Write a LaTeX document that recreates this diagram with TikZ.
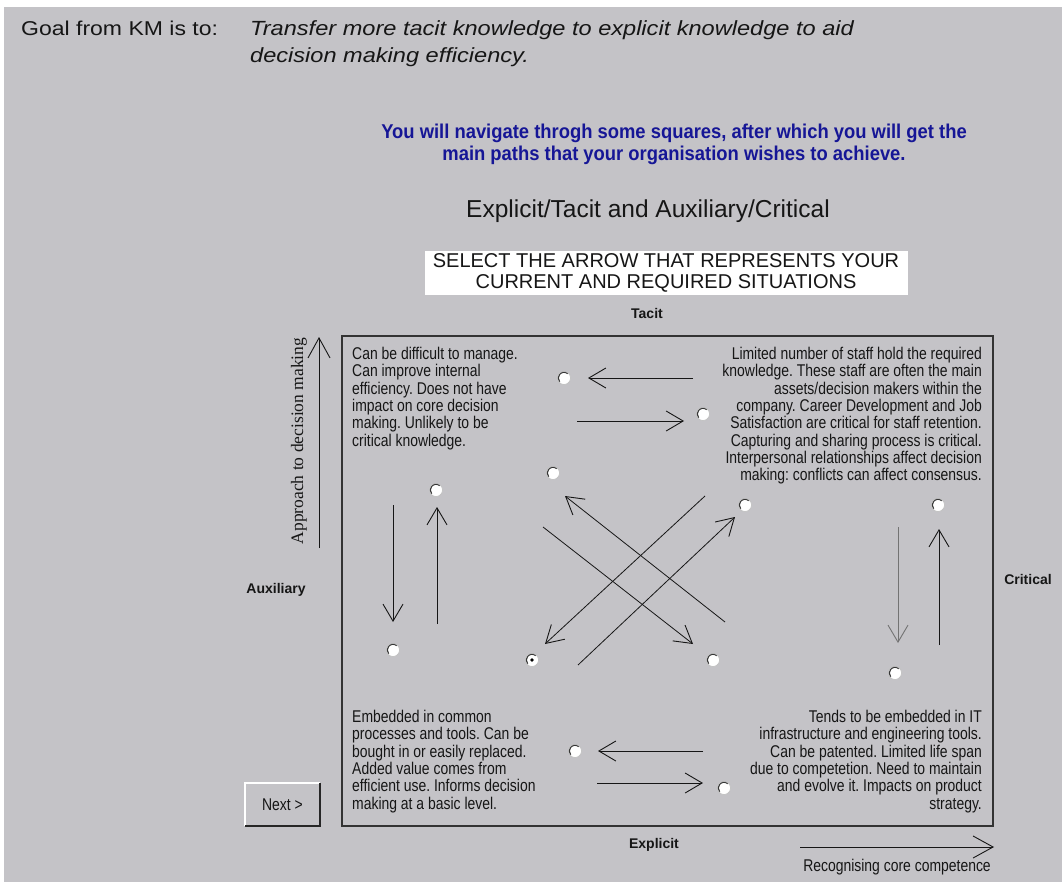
\documentclass[tikz,border=0pt]{standalone}
\usepackage{fontspec}
\setmainfont{Liberation Sans}
\newfontfamily\panelfont{Liberation Sans}[FakeStretch=0.82]
\newfontfamily\headfont{Liberation Sans}[FakeStretch=1.15]
\newfontfamily\promptfont{Liberation Sans}[FakeStretch=0.92]
\newfontfamily\axisfont{Liberation Serif}
\usetikzlibrary{arrows.meta,calc}
\definecolor{panelgray}{RGB}{196,195,199}
\definecolor{prompt}{RGB}{22,22,150}
\definecolor{ink}{RGB}{22,22,22}
\frenchspacing

\begin{document}
\begin{tikzpicture}[x=1pt,y=-1pt,
  quad/.style={inner sep=0pt, font=\panelfont\fontsize{17}{17.3}\selectfont, text=ink},
  sidelabel/.style={inner sep=0pt, font=\bfseries\fontsize{14}{16}\selectfont, text=ink},
  radio/.style={circle, inner sep=0pt, minimum size=13pt, fill=white, draw=black!25, line width=0.6pt,
    path picture={\draw[black!80,line width=1.3pt]
      ($(path picture bounding box.center)+(50:5.8pt)$) arc[start angle=50,end angle=220,radius=5.8pt];}},
  barb/.style={-{Straight Barb[length=17pt,width=20pt,line width=0.9pt]}, line width=1pt, ink},
  axisarrow/.style={-{Straight Barb[length=20pt,width=22pt,line width=0.9pt]}, line width=1pt, ink}]

% page and panel background
\useasboundingbox (0,0) rectangle (1062,882);
\fill[white] (0,0) rectangle (1062,882);
\fill[panelgray] (4,7) rectangle (1062,882);

% heading (multi-line nodes sit on the baseline of their last line)
\node[anchor=base west, inner sep=0pt, font=\headfont\fontsize{20}{24}\selectfont, text=ink] (goal) at (21,36) {Goal from KM is to:};
\node[anchor=base west, inner sep=0pt, align=left, font=\headfont\itshape\fontsize{20.5}{27}\selectfont, text=ink] (aim) at (250,63)
  {Transfer more tacit knowledge to explicit knowledge to aid\\decision making efficiency.};

% instructions
\node[anchor=base, inner sep=0pt, align=center, font=\promptfont\bfseries\fontsize{20}{22}\selectfont, text=prompt] (intro) at (674,161)
  {You will navigate throgh some squares, after which you will get the\\main paths that your organisation wishes to achieve.};
\node[anchor=base, inner sep=0pt, font=\fontsize{24.5}{28}\selectfont, text=ink] (title) at (648,218) {Explicit/Tacit and Auxiliary/Critical};
\fill[white] (425,251) rectangle (908,295);
\node[anchor=base, inner sep=0pt, align=center, font=\fontsize{20}{21}\selectfont, text=ink] (select) at (666,289)
  {SELECT THE ARROW THAT REPRESENTS YOUR\\CURRENT AND REQUIRED SITUATIONS};

% quadrant frame and side labels
\draw[black!80, line width=1.5pt] (342,336) rectangle (993,826);
\node[sidelabel] (tacit) at (647,313) {Tacit};
\node[sidelabel] (auxiliary) at (276,590) {Auxiliary};
\node[sidelabel] (critical) at (1028,579) {Critical};
\node[sidelabel] (explicit) at (654,845) {Explicit};

% axes
\coordinate (ybase) at (319,548);
\coordinate (ytop) at (319,337);
\draw[axisarrow] (ybase) -- (ytop);
\node[rotate=90, inner sep=0pt, font=\axisfont\fontsize{17.5}{20}\selectfont, text=ink] (approach) at (299,441) {Approach to decision making};
\coordinate (xbase) at (800,847);
\coordinate (xtip) at (994,847);
\draw[axisarrow] (xbase) -- (xtip);
\node[quad] (recog) at (897,867) {Recognising core competence};

% quadrant descriptions
\node[quad, anchor=north west, align=left] (tl) at (352,347)
  {Can be difficult to manage.\\Can improve internal\\efficiency. Does not have\\impact on core decision\\making. Unlikely to be\\critical knowledge.};
\node[quad, anchor=north east, align=right] (tr) at (982,347)
  {Limited number of staff hold the required\\knowledge. These staff are often the main\\assets/decision makers within the\\company. Career Development and Job\\Satisfaction are critical for staff retention.\\Capturing and sharing process is critical.\\Interpersonal relationships affect decision\\making: conflicts can affect consensus.};
\node[quad, anchor=north west, align=left] (bl) at (352,710)
  {Embedded in common\\processes and tools. Can be\\bought in or easily replaced.\\Added value comes from\\efficient use. Informs decision\\making at a basic level.};
\node[quad, anchor=north east, align=right] (br) at (982,710)
  {Tends to be embedded in IT\\infrastructure and engineering tools.\\Can be patented.  Limited life span\\due to competetion. Need to maintain\\and evolve it. Impacts on product\\strategy.};

% option buttons
\node[radio] (r1) at (564,378) {};
\node[radio] (r2) at (703,414) {};
\node[radio] (r3) at (553,473) {};
\node[radio] (r4) at (436,490) {};
\node[radio] (r5) at (745,505) {};
\node[radio] (r6) at (938,505) {};
\node[radio] (r7) at (393,650) {};
\node[radio] (r8) at (532,660) {};
\fill[black] (r8.center) circle[radius=1.8pt];
\node[radio] (r9) at (713,660) {};
\node[radio] (r10) at (895,673) {};
\node[radio] (r11) at (575,751) {};
\node[radio] (r12) at (724,788) {};

% transition arrows
\coordinate (a1s) at (693,378);  \coordinate (a1e) at (588,378);
\coordinate (a2s) at (577,421);  \coordinate (a2e) at (684,421);
\coordinate (a3s) at (393,505);  \coordinate (a3e) at (393,622);
\coordinate (a4s) at (437,624);  \coordinate (a4e) at (437,507);
\coordinate (a5s) at (898,527);  \coordinate (a5e) at (898,643);
\coordinate (a6s) at (939,645);  \coordinate (a6e) at (939,529);
\coordinate (a7s) at (725,622);  \coordinate (a7e) at (565,496);
\coordinate (a8s) at (543,527);  \coordinate (a8e) at (693,644);
\coordinate (a9s) at (705,496);  \coordinate (a9e) at (545,644);
\coordinate (a10s) at (578,665); \coordinate (a10e) at (735,517);
\coordinate (a11s) at (703,751); \coordinate (a11e) at (598,751);
\coordinate (a12s) at (597,783); \coordinate (a12e) at (703,783);
\draw[barb] (a1s) -- (a1e);
\draw[barb] (a2s) -- (a2e);
\draw[barb] (a3s) -- (a3e);
\draw[barb] (a4s) -- (a4e);
\draw[barb, black!55] (a5s) -- (a5e);
\draw[barb] (a6s) -- (a6e);
\draw[barb, line width=0.8pt] (a7s) -- (a7e);
\draw[barb, line width=0.8pt] (a8s) -- (a8e);
\draw[barb, line width=0.8pt] (a9s) -- (a9e);
\draw[barb, line width=0.8pt] (a10s) -- (a10e);
\draw[barb] (a11s) -- (a11e);
\draw[barb] (a12s) -- (a12e);

% next button
\node[fill=panelgray, minimum width=75pt, minimum height=43pt, inner sep=0pt,
  font=\panelfont\fontsize{17}{18}\selectfont, text=ink] (next) at (282.5,804.5) {Next >};
\draw[white, line width=1.5pt] (next.south west) -- (next.north west) -- (next.north east);
\draw[black!85, line width=2pt] (next.north east) -- (next.south east) -- (next.south west);
\end{tikzpicture}
\end{document}
